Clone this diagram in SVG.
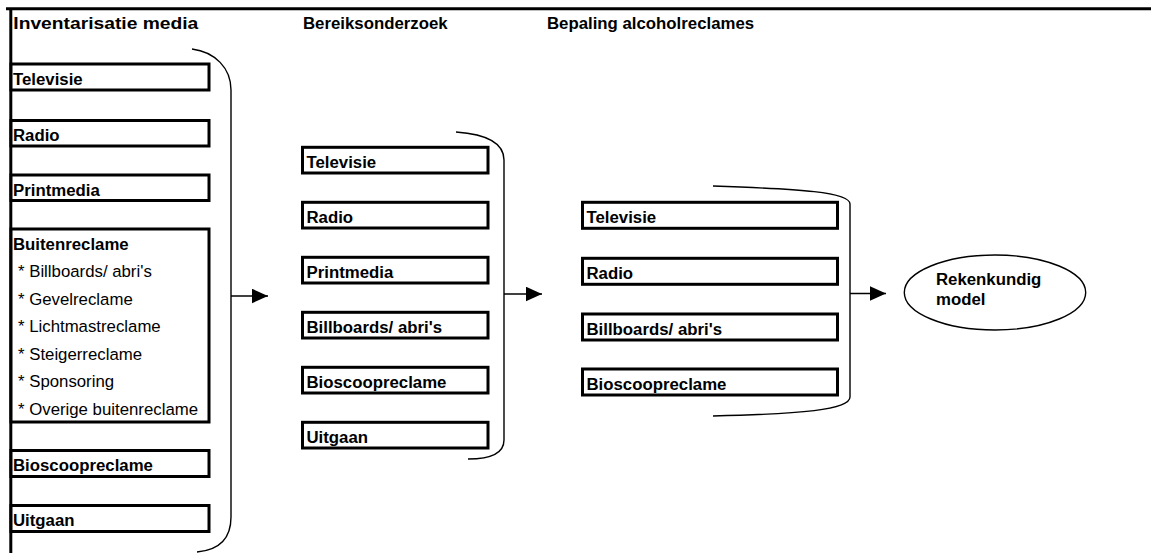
<svg xmlns="http://www.w3.org/2000/svg" width="1151" height="553" viewBox="0 0 1151 553">
<style>
.frame{stroke:#000;stroke-width:3;fill:none}
.box{fill:#fff;stroke:#000;stroke-width:3}
.br{fill:none;stroke:#000;stroke-width:1.4}
.con{fill:none;stroke:#000;stroke-width:1.4}
.ell{fill:#fff;stroke:#000;stroke-width:1.4}
.b{font-family:"Liberation Sans",Arial,sans-serif;font-weight:bold;font-size:16.8px;fill:#000}
.r{font-family:"Liberation Sans",Arial,sans-serif;font-size:16.8px;fill:#000}
</style>
<defs>
<marker id="ah" markerUnits="userSpaceOnUse" markerWidth="17" markerHeight="16" refX="16.5" refY="7.5" orient="auto">
<path d="M0,0 L16.5,7.5 L0,15 z" fill="#000"/>
</marker>
</defs>
<rect width="1151" height="553" fill="#fff"/>
<g id="frame">
<line class="frame" x1="6" y1="8.7" x2="1151" y2="8.7"/>
<line class="frame" x1="10.8" y1="8" x2="10.8" y2="553"/>
</g>
<g id="titles">
<text class="b" x="13.3" y="29" textLength="185" lengthAdjust="spacingAndGlyphs">Inventarisatie media</text>
<text class="b" x="303" y="28.5">Bereiksonderzoek</text>
<text class="b" x="547" y="28.5">Bepaling alcoholreclames</text>
</g>
<g id="col1">
<g id="c1-tv"><rect class="box" x="11" y="64" width="198" height="26"/><text class="b" x="13" y="85">Televisie</text></g>
<g id="c1-radio"><rect class="box" x="11" y="120.5" width="198" height="25.5"/><text class="b" x="13" y="141">Radio</text></g>
<g id="c1-print"><rect class="box" x="11" y="175" width="198" height="25.5"/><text class="b" x="13" y="195.5">Printmedia</text></g>
<g id="c1-buiten"><rect class="box" x="11" y="229" width="198" height="193"/>
<text class="b" x="13" y="249.5">Buitenreclame</text>
<text class="r" x="18" y="277">* Billboards/ abri's</text>
<text class="r" x="18" y="304.5">* Gevelreclame</text>
<text class="r" x="18" y="332">* Lichtmastreclame</text>
<text class="r" x="18" y="359.5">* Steigerreclame</text>
<text class="r" x="18" y="387">* Sponsoring</text>
<text class="r" x="18" y="414.5">* Overige buitenreclame</text>
</g>
<g id="c1-bios"><rect class="box" x="11" y="450.5" width="198" height="26"/><text class="b" x="13" y="470.5">Bioscoopreclame</text></g>
<g id="c1-uit"><rect class="box" x="11" y="505.5" width="198" height="26"/><text class="b" x="13" y="525.5">Uitgaan</text></g>
</g>
<g id="col2">
<g id="c2-tv"><rect class="box" x="302.5" y="147.3" width="185.5" height="25.7"/><text class="b" x="306.5" y="168">Televisie</text></g>
<g id="c2-radio"><rect class="box" x="302.5" y="202.3" width="185.5" height="25.7"/><text class="b" x="306.5" y="223">Radio</text></g>
<g id="c2-print"><rect class="box" x="302.5" y="257.3" width="185.5" height="25.7"/><text class="b" x="306.5" y="278">Printmedia</text></g>
<g id="c2-bill"><rect class="box" x="302.5" y="312.3" width="185.5" height="25.7"/><text class="b" x="306.5" y="333">Billboards/ abri's</text></g>
<g id="c2-bios"><rect class="box" x="302.5" y="367.3" width="185.5" height="25.7"/><text class="b" x="306.5" y="388">Bioscoopreclame</text></g>
<g id="c2-uit"><rect class="box" x="302.5" y="422.3" width="185.5" height="25.7"/><text class="b" x="306.5" y="443">Uitgaan</text></g>
</g>
<g id="col3">
<g id="c3-tv"><rect class="box" x="582.5" y="202.3" width="255" height="26"/><text class="b" x="586.5" y="223">Televisie</text></g>
<g id="c3-radio"><rect class="box" x="582.5" y="258.3" width="255" height="26"/><text class="b" x="586.5" y="279">Radio</text></g>
<g id="c3-bill"><rect class="box" x="582.5" y="314" width="255" height="26"/><text class="b" x="586.5" y="334.7">Billboards/ abri's</text></g>
<g id="c3-bios"><rect class="box" x="582.5" y="369" width="255" height="26"/><text class="b" x="586.5" y="389.7">Bioscoopreclame</text></g>
</g>
<g id="model">
<ellipse class="ell" cx="995" cy="292.5" rx="90.7" ry="37.5"/>
<text class="b" x="936" y="285">Rekenkundig</text>
<text class="b" x="936" y="305">model</text>
</g>
<g id="connectors">
<path class="br" d="M192,49 C215,52 231,68 231,90 L231,517 C231,538 220,550 197,552"/>
<path class="br" d="M456,132 C484,134 504,142 504,160 L504,440 C504,452 494,459 468,459"/>
<path class="br" d="M713,186 C800,189 850,192 850,204 L850,397 C850,410 800,414 713,416"/>
<line class="con" x1="231" y1="296" x2="268" y2="296" marker-end="url(#ah)"/>
<line class="con" x1="504" y1="294" x2="542" y2="294" marker-end="url(#ah)"/>
<line class="con" x1="850" y1="293.5" x2="886" y2="293.5" marker-end="url(#ah)"/>
</g>
</svg>
